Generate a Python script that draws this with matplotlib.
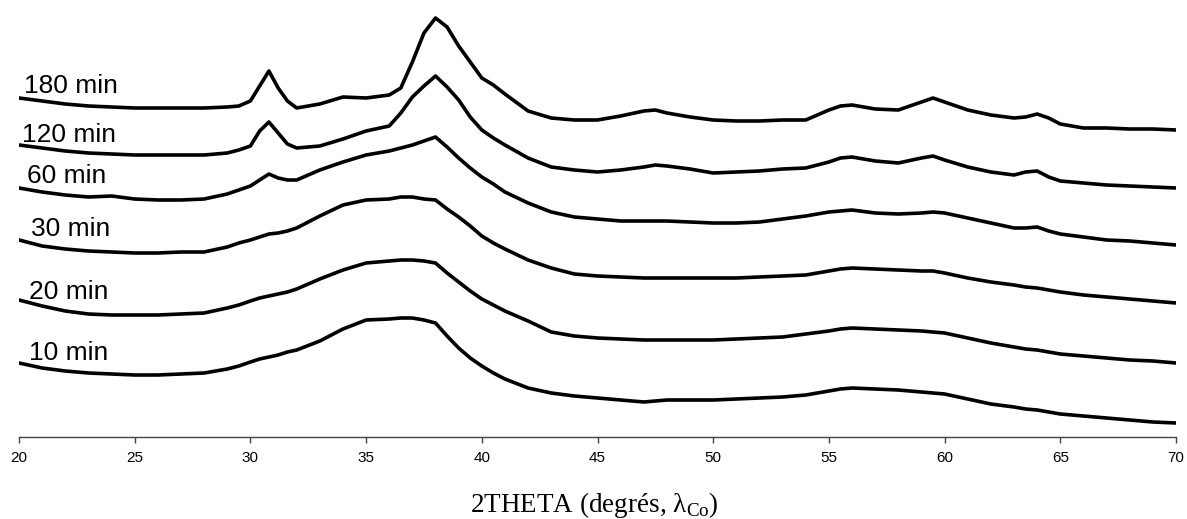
import numpy as np
import matplotlib.pyplot as plt

plt.rcParams['mathtext.fontset'] = 'custom'
plt.rcParams['mathtext.rm'] = 'Liberation Serif'

# 2theta (degrees) sampled along the traces
two_theta = [20, 21, 22, 23, 24, 25, 26, 27, 28, 29,
             29.5, 30, 30.4, 30.8, 31.2, 31.6,
             32, 33, 34, 35, 36,
             36.5, 37, 37.5, 38, 38.5, 39, 39.5, 40, 40.5, 41,
             42, 43, 44, 45, 46, 47,
             47.5,
             48, 49, 50, 51, 52, 53, 54, 55,
             55.5,
             56, 57, 58, 59,
             59.5,
             60, 61, 62, 63,
             63.5, 64, 64.5,
             65, 66, 67, 68, 69, 70]

# intensities (a.u., already stacked)
i_180 = [340, 337, 334, 332, 331, 330, 330, 330, 330, 331,
         332, 337, 352, 367, 350, 337,
         330, 334, 341, 340, 343,
         350, 376, 405, 420, 411, 392, 376, 360, 353, 344,
         327, 320, 318, 318, 322, 327,
         328,
         325, 321, 318, 317, 317, 318, 318, 328,
         332,
         333, 329, 328, 336,
         340,
         336, 328, 323, 320,
         321, 324, 320,
         314, 310, 310, 309, 309, 308]

i_120 = [293, 290, 287, 285, 284, 283, 283, 283, 283, 285,
         288, 292, 307, 316, 305, 294,
         290, 292, 299, 307, 312,
         325, 341, 352, 362, 351, 338, 321, 308, 300, 293,
         280, 271, 268, 266, 268, 271,
         273,
         272, 269, 265, 266, 267, 269, 270, 276,
         280,
         281, 277, 275, 280,
         282,
         278, 271, 266, 263,
         266, 267, 261,
         257, 255, 253, 252, 251, 250]

i_60 = [250, 246, 243, 241, 242, 239, 238, 238, 239, 244,
        248, 252, 258, 264, 260, 258,
        258, 268, 276, 283, 287,
        290, 293, 297, 301, 291, 280, 270, 261, 254, 246,
        235, 226, 221, 219, 217, 217,
        217,
        217, 216, 215, 215, 216, 219, 222, 226,
        227,
        228, 225, 224, 225,
        226,
        225, 220, 215, 210,
        210, 211, 207,
        204, 201, 198, 197, 195, 193]

i_30 = [198, 192, 189, 187, 186, 185, 185, 186, 186, 191,
        195, 198, 201, 204, 205, 207,
        210, 222, 233, 238, 239,
        241, 241, 239, 238, 229, 221, 212, 202, 195, 189,
        178, 170, 164, 162, 161, 160,
        160,
        160, 160, 160, 160, 161, 162, 163, 167,
        169,
        170, 169, 168, 167,
        167,
        165, 160, 156, 153,
        151, 150, 148,
        146, 143, 141, 139, 137, 135]

i_20 = [138, 132, 127, 124, 123, 123, 123, 124, 125, 130,
        133, 137, 140, 142, 144, 146,
        149, 159, 168, 175, 177,
        178, 178, 177, 175, 165, 156, 147, 139, 133, 127,
        117, 106, 102, 100, 99, 98,
        98,
        98, 98, 98, 99, 100, 101, 104, 107,
        109,
        110, 109, 108, 107,
        106,
        105, 100, 95, 91,
        89, 88, 86,
        84, 82, 80, 78, 77, 75]

i_10 = [75, 70, 67, 65, 64, 63, 63, 64, 65, 69,
        72, 76, 79, 81, 83, 86,
        88, 97, 109, 118, 119,
        120, 120, 118, 115, 102, 90, 80, 72, 65, 59,
        50, 45, 42, 40, 38, 36,
        37,
        38, 38, 38, 39, 40, 41, 43, 47,
        49,
        50, 49, 48, 46,
        45,
        44, 39, 34, 31,
        29, 28, 26,
        24, 22, 20, 18, 16, 15]

series = [i_180, i_120, i_60, i_30, i_20, i_10]
labels = ['180 min', '120 min', '60 min', '30 min', '20 min', '10 min']
label_xy = [(20.2, 345), (20.13, 296), (20.35, 255), (20.5, 202), (20.45, 139), (20.45, 78)]

fig = plt.figure(figsize=(11.87, 5.19), dpi=100)
ax = fig.add_axes([19 / 1187, 1 - 437 / 519, 1157 / 1187, 437 / 519])

for y in series:
    ax.plot(two_theta, y, color='black', linewidth=2.6, solid_joinstyle='round')

for lab, (lx, ly) in zip(labels, label_xy):
    ax.text(lx, ly, lab, fontsize=19, family='Liberation Sans', ha='left', va='baseline')

ax.set_xlim(20, 70)
ax.set_ylim(1, 438)
ax.set_xticks(np.arange(20, 71, 5))
ax.set_yticks([])
for s in ['top', 'right', 'left']:
    ax.spines[s].set_visible(False)
ax.spines['bottom'].set_color('#444444')
ax.spines['bottom'].set_linewidth(1)
ax.tick_params(axis='x', direction='out', length=4, width=1, color='#444444',
               labelsize=11, pad=6)
for t in ax.get_xticklabels():
    t.set_family('Liberation Sans')

fig.text(0.501, 0.014, r'2THETA (degrés, λ$_{\mathrm{Co}}$)', fontsize=19.5,
         family='Liberation Serif', ha='center', va='baseline')

plt.savefig('out.png', dpi=100)
